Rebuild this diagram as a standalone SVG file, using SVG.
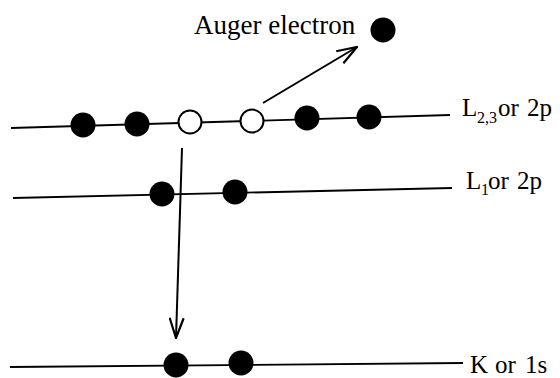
<svg xmlns="http://www.w3.org/2000/svg" width="560" height="378" viewBox="0 0 560 378">
  <style>
    .lvl { stroke: #000; stroke-width: 1.8; fill: none; }
    .e { fill: #000; }
    .h { fill: #fff; stroke: #000; stroke-width: 2; }
    .arr { stroke: #000; stroke-width: 2; fill: none; marker-end: url(#ah); }
    .t { font-family: "Liberation Serif", "Times New Roman", serif; fill: #000; font-size: 25px; }
    .sub { font-size: 16px; }
  </style>
  <defs>
    <marker id="ah" viewBox="0 0 22 16" refX="21" refY="8" markerWidth="22" markerHeight="16" markerUnits="userSpaceOnUse" orient="auto">
      <path d="M1,1 L21,8 L1,15" fill="none" stroke="#000" stroke-width="2.2" stroke-linejoin="miter"/>
    </marker>
  </defs>
  <rect width="560" height="378" fill="#fff"/>

  <g id="level-L23">
    <line class="lvl" x1="11" y1="128" x2="450" y2="115"/>
    <text class="t" x="462" y="116">L<tspan class="sub" x="477" y="123">2,3</tspan><tspan x="498" y="116">or</tspan><tspan x="527" y="116">2p</tspan></text>
  </g>
  <g id="level-L1">
    <line class="lvl" x1="13" y1="198" x2="452" y2="188"/>
    <text class="t" x="466" y="189">L<tspan class="sub" x="481" y="195">1</tspan><tspan x="488" y="189">or</tspan><tspan x="517" y="189">2p</tspan></text>
  </g>
  <g id="level-K">
    <line class="lvl" x1="10" y1="367" x2="463" y2="363"/>
    <text class="t" x="470" y="373">K<tspan x="495" y="373">or</tspan><tspan x="525" y="373">1s</tspan></text>
  </g>

  <g id="electrons-L23">
    <circle class="e" cx="83" cy="125" r="12.5"/>
    <circle class="e" cx="137" cy="124" r="12.5"/>
    <circle class="h" cx="190" cy="122" r="11.5"/>
    <circle class="h" cx="252" cy="121" r="11.5"/>
    <circle class="e" cx="307" cy="118" r="12.5"/>
    <circle class="e" cx="369" cy="117" r="12.5"/>
  </g>
  <g id="electrons-L1">
    <circle class="e" cx="162" cy="194" r="12.5"/>
    <circle class="e" cx="235" cy="192" r="12.5"/>
  </g>
  <g id="electrons-K">
    <circle class="e" cx="176" cy="365" r="12.5"/>
    <circle class="e" cx="241" cy="363" r="12.5"/>
  </g>
  <g id="auger-electron">
    <circle class="e" cx="383" cy="30" r="12.5"/>
    <text class="t" x="194" y="34" style="font-size:27px">Auger electron</text>
  </g>

  <g id="connectors">
    <line class="arr" x1="182" y1="148" x2="176" y2="338"/>
    <line class="arr" x1="263" y1="103" x2="357" y2="47"/>
  </g>
</svg>
